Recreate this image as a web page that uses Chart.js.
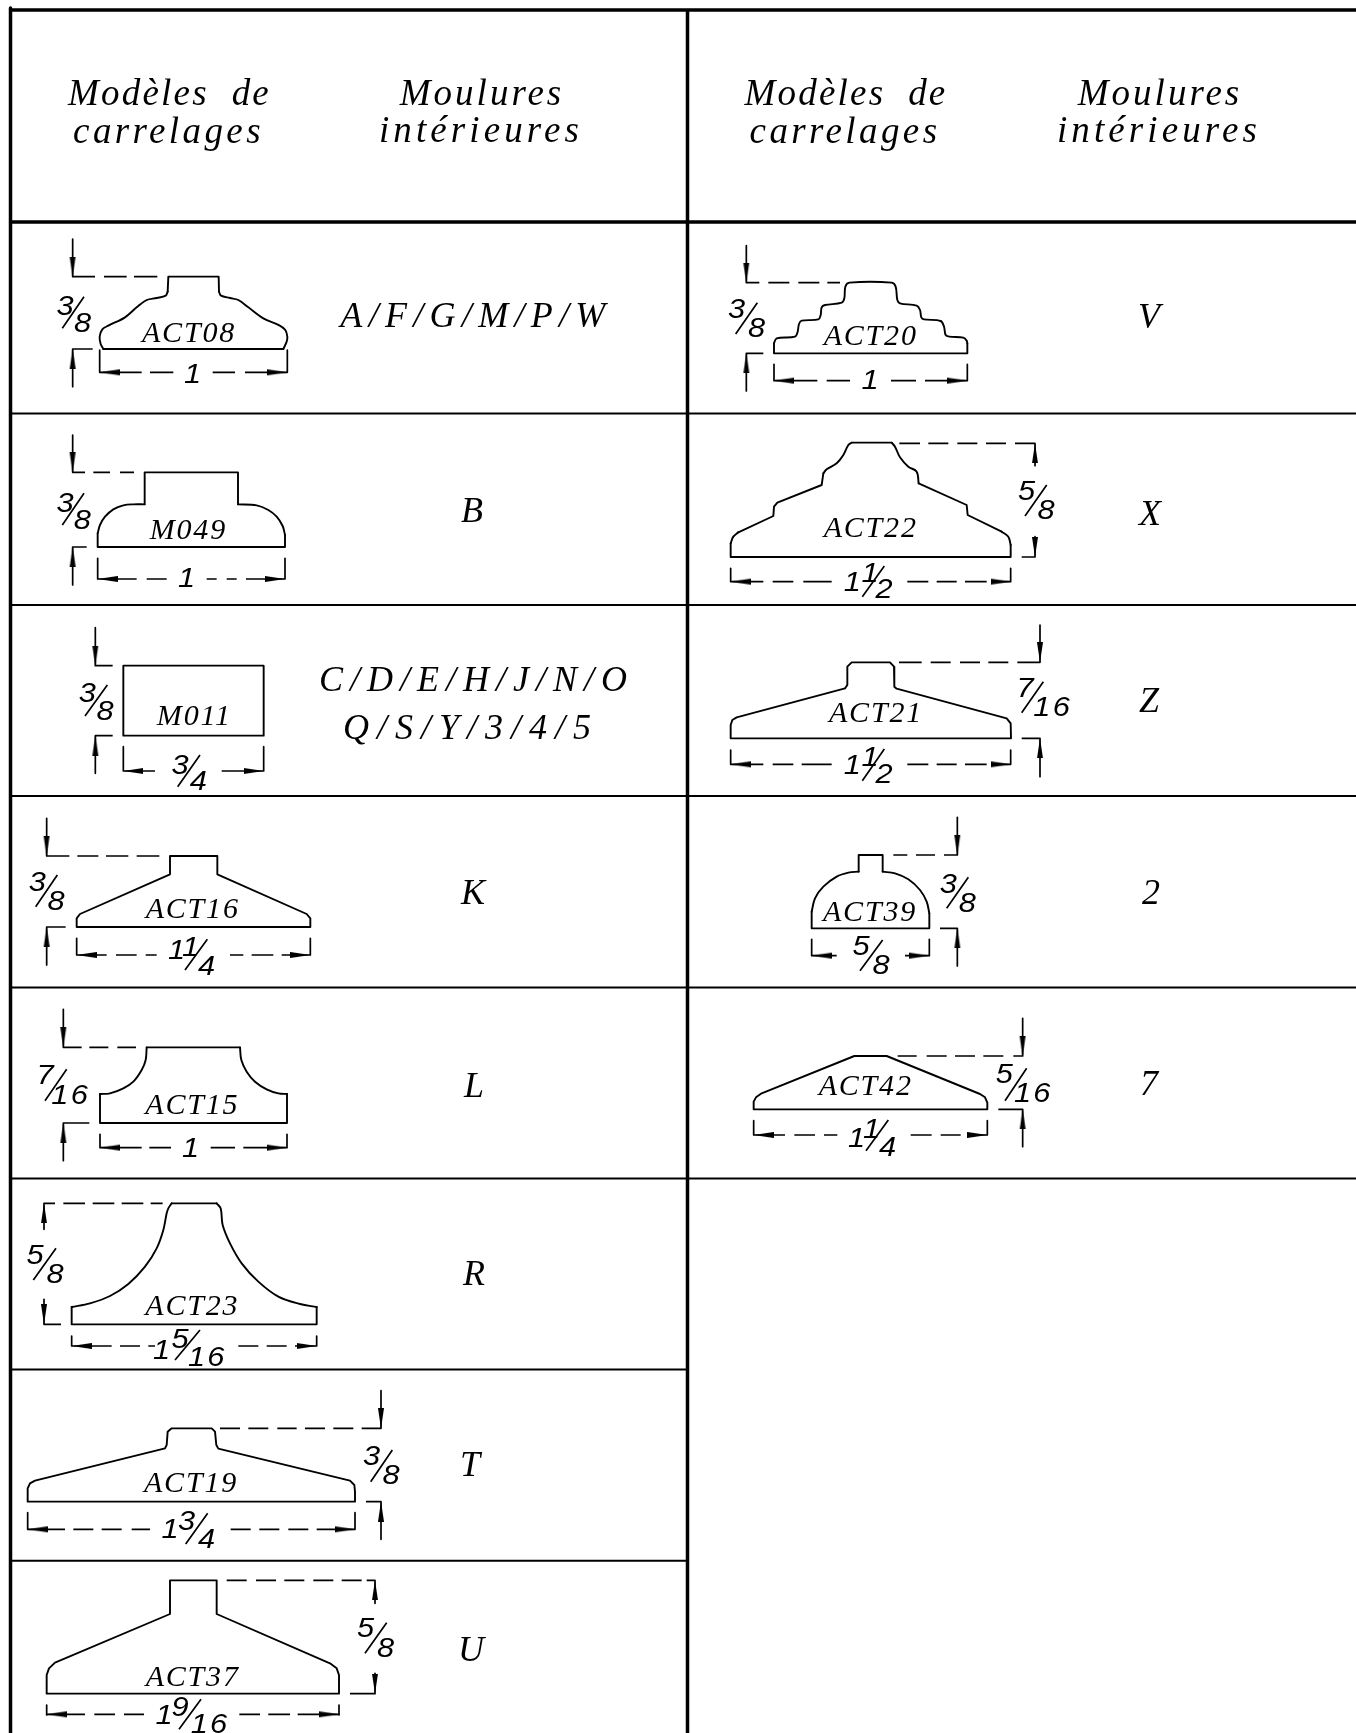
<!DOCTYPE html>
<html><head><meta charset="utf-8">
<style>html,body{margin:0;padding:0;background:#fff}canvas{display:block}</style>
<script src="https://cdn.jsdelivr.net/npm/chart.js@4"></script>
</head><body>
<canvas id="c" width="1356" height="1733"></canvas>
<script>
// Table frame (page units)
const thickH = [[10,10,1356],[222,10,1356]];
const thickV = [[10.5,8,1733],[687.5,10,1733]];
const thinH = [[413.5,10,1356],[605,10,1356],[796,10,1356],[987.5,10,1356],[1178.5,10,1356],[1369.5,10,687],[1560.7,10,687]];

// Header and moulding letters (page units)
const headers = [["Modèles  de",169.5,105],["carrelages",168.5,143],["Moulures",482,105],["intérieures",481,142],
  ["Modèles  de",846,105],["carrelages",845,143],["Moulures",1160,105],["intérieures",1159,142]];
const headerSpacing = [2.2,3.4,3,4.1,2.2,3.4,3,4.1];
const mouldings = [["A/F/G/M/P/W",476,327],["B",472,522],["C/D/E/H/J/N/O",476.5,691],["Q/S/Y/3/4/5",471,739],
  ["K",473,904],["L",474,1097],["R",474,1285],["T",470,1476],["U",471,1661],
  ["V",1149,328],["X",1150,525],["Z",1149,712],["2",1151,904],["7",1149,1095]];
const mouldingSpacing = [6.3,0,7,8,0,0,0,0,0,0,0,0,0,0];

// Each profile below is read in reference crop units (3 per page pixel) from its crop origin.
// _outline pieces are straight polylines, _curves pieces are smooth ones.
const cropA=[0,220], cropB=[0,600], cropC=[0,980], cropD=[0,1360], cropE=[700,220], cropF=[700,600], cropG=[720,800];

const ACT08_outline=[[503,215,505,170,656,170,657,215],[310,387,850,387]];
const ACT08_curves=[[503,215,497,227,470,234,440,240,410,262,375,292,325,317,307,328,299,350,302,372,310,387],[850,387,860,365,862,350,856,330,838,316,790,295,745,262,715,240,690,234,663,227,657,215]];
const ACT08_h=[[170,218,285,312,380,402,472],[387,218,278],[457,299,425,450,520,638,705,735,862]];
const ACT08_v=[[218,57,170],[218,387,500],[299,390,457],[862,390,457]];
const ACT08_slash=[[187,325,252,230]];
const ACT08_arrows=[[218,170,'d'],[218,387,'u'],[299,457,'r'],[862,457,'l']];
const ACT08_code=["ACT08",567,365];
const ACT08_dim=[["3",195,285],["8",248,337],["1",578,488]];

const M049_outline=[[293,940,293,981,855,981,855,945],[434,853,434,757,714,757,714,853]];
const M049_curves=[[293,940,300,915,315,890,340,868,370,856,400,853,434,853],[714,853,770,856,805,870,830,890,848,918,855,945]];
const M049_h=[[757,218,255,280,330,360,402],[981,218,260],[1077,293,410,440,500,620,650,680,710,738,855]];
const M049_v=[[218,645,757],[218,981,1095],[293,1015,1077],[855,1015,1077]];
const M049_slash=[[187,915,252,820]];
const M049_arrows=[[218,757,'d'],[218,981,'u'],[293,1077,'r'],[855,1077,'l']];
const M049_code=["M049",565,957];
const M049_dim=[["3",195,875],["8",247,927],["1",560,1100]];

const M011_outline=[[370,197,791,197,791,407,370,407,370,197]];
const M011_curves=[];
const M011_h=[[197,286,338],[407,286,338],[513,370,465,665,791]];
const M011_v=[[286,83,197],[286,407,520],[370,440,513],[791,440,513]];
const M011_slash=[[255,348,322,255],[533,560,600,465]];
const M011_arrows=[[286,197,'d'],[286,407,'u'],[370,513,'r'],[791,513,'l']];
const M011_code=["M011",583,375];
const M011_dim=[["3",262,305],["8",315,360],["3",540,522],["4",595,570]];

const ACT16_outline=[[510,768,652,768,652,823,920,942,931,955,931,981,230,981,230,955,240,942,510,823,510,768]];
const ACT16_curves=[];
const ACT16_h=[[768,140,208,232,295,318,385,410,478],[981,140,197],[1065,230,320,348,410,437,470,690,730,755,820,845,931]];
const ACT16_v=[[140,655,768],[140,981,1095],[230,1015,1065],[931,1015,1065]];
const ACT16_slash=[[107,920,172,825],[555,1110,622,1018]];
const ACT16_arrows=[[140,768,'d'],[140,981,'u'],[230,1065,'r'],[931,1065,'l']];
const ACT16_code=["ACT16",578,955];
const ACT16_dim=[["3",112,872],["8",168,930],["1",530,1078],["1",572,1068],["4",620,1125]];

const ACT15_outline=[[300,342,300,429,861,429,861,342],[440,202,720,202]];
const ACT15_curves=[[440,202,437,240,425,270,400,305,370,325,330,340,300,342],[720,202,724,240,740,275,765,305,800,328,835,340,861,342]];
const ACT15_h=[[202,190,245,268,325,352,408],[429,190,268],[503,300,425,448,513,632,705,730,861]];
const ACT15_v=[[190,88,202],[190,429,542],[300,463,503],[861,463,503]];
const ACT15_slash=[[135,362,200,268]];
const ACT15_arrows=[[190,202,'d'],[190,429,'u'],[300,503,'r'],[861,503,'l']];
const ACT15_code=["ACT15",577,403];
const ACT15_dim=[["7",135,313],["16",212,372],["1",572,530]];

const ACT23_outline=[[215,981,215,1033,950,1033,950,981],[515,670,650,670]];
const ACT23_curves=[[515,670,505,685,500,700,490,750,470,805,435,860,385,912,330,948,270,970,215,981],[650,670,662,685,668,735,690,790,725,850,775,905,835,950,900,972,950,981]];
const ACT23_h=[[670,132,165,190,255,278,343,365,430,452,488],[1033,132,183],[1098,215,335,360,420,445,465,715,775,800,860,885,950]];
const ACT23_v=[[132,670,748],[132,958,1033],[215,1068,1098],[950,1068,1098]];
const ACT23_slash=[[100,900,168,805],[525,1140,600,1050]];
const ACT23_arrows=[[132,670,'u'],[132,1033,'d'],[215,1098,'r'],[950,1098,'l']];
const ACT23_code=["ACT23",577,1005];
const ACT23_dim=[["5",105,852],["8",165,910],["1",485,1137],["5",540,1105],["16",622,1157]];

const ACT19_outline=[[83,425,83,385,90,370,105,362,495,265,500,255,503,215,515,205,635,205,645,215,649,255,655,266,1050,362,1063,375,1065,395,1065,425,83,425]];
const ACT19_curves=[];
const ACT19_h=[[205,660,720,745,805,832,890,915,975,1000,1060,1085,1143],[425,1098,1143],[508,83,195,220,280,305,365,395,450,692,752,778,838,865,925,950,1065]];
const ACT19_v=[[1143,92,205],[1143,425,538],[83,458,508],[1065,458,508]];
const ACT19_slash=[[1112,365,1177,270],[557,552,623,460]];
const ACT19_arrows=[[1143,205,'d'],[1143,425,'u'],[83,508,'r'],[1065,508,'l']];
const ACT19_code=["ACT19",573,397];
const ACT19_dim=[["3",1115,315],["8",1173,373],["1",510,535],["3",560,510],["4",620,563]];

const ACT37_outline=[[140,1001,140,945,147,925,165,908,510,762,510,661,650,661,650,762,990,910,1010,925,1017,945,1017,1001,140,1001]];
const ACT37_curves=[];
const ACT37_h=[[661,680,740,768,828,853,913,940,1000,1025,1085,1100,1125],[1001,1050,1125],[1063,140,255,283,345,372,432,718,780,805,870,893,1017]];
const ACT37_v=[[1125,661,730],[1125,940,1001],[140,1035,1065],[1017,1035,1065]];
const ACT37_slash=[[1095,880,1160,788],[537,1108,603,1018]];
const ACT37_arrows=[[1125,661,'u'],[1125,1001,'d'],[140,1063,'r'],[1017,1063,'l']];
const ACT37_code=["ACT37",578,977];
const ACT37_dim=[["5",1097,832],["8",1157,890],["1",492,1092],["9",540,1068],["16",630,1118]];

const ACT20_outline=[[222,370,222,400,802,400,802,370]];
const ACT20_curves=[[222,370,230,355,285,350,293,335,297,312,305,302,355,298,362,285,365,262,375,255,425,248,433,235,436,200,448,188,575,188,587,200,592,240,600,250,650,257,660,270,664,292,672,298,722,303,732,320,737,345,748,350,790,353,800,362,802,370]];
const ACT20_h=[[188,139,178,205,268,295,358,382,420],[400,139,190],[482,222,352,380,450,573,648,675,802]];
const ACT20_v=[[139,77,188],[139,400,513],[222,433,482],[802,433,482]];
const ACT20_slash=[[107,342,172,248]];
const ACT20_arrows=[[139,188,'d'],[139,400,'u'],[222,482,'r'],[802,482,'l']];
const ACT20_code=["ACT20",512,375];
const ACT20_dim=[["3",110,295],["8",170,352],["1",510,508]];

const ACT22_outline=[[92,970,92,1011,932,1011,932,975],[115,937,220,888,222,860,232,848,365,795,370,760],[455,668,575,668],[656,790,800,855,803,885,905,935]];
const ACT22_curves=[[92,970,100,950,115,937],[370,760,380,748,410,730,430,705,445,675,455,668],[575,668,585,680,600,712,625,740,650,755,656,790],[905,935,925,950,932,975]];
const ACT22_h=[[670,598,660,685,745,772,832,858,918,945,1005],[1011,965,1005],[1085,92,190,218,280,310,395,622,685,710,770,795,860,880,932]];
const ACT22_v=[[1005,670,737],[1005,950,1011],[92,1045,1085],[932,1045,1085]];
const ACT22_slash=[[975,888,1040,795],[487,1130,553,1038]];
const ACT22_arrows=[[1005,670,'u'],[1005,1011,'d'],[92,1085,'r'],[932,1085,'l']];
const ACT22_code=["ACT22",512,950];
const ACT22_dim=[["5",980,840],["8",1038,898],["1",457,1113],["1",510,1087],["2",552,1135]];

const ACT21_outline=[[92,415,92,375,97,360,110,352,435,265,442,255,442,200,455,187,570,187,582,200,583,260,590,266,920,355,932,370,933,415,92,415]];
const ACT21_curves=[];
const ACT21_h=[[187,597,665,692,752,780,840,865,925,952,1020],[415,965,1020],[493,92,190,218,280,305,395,622,685,710,770,795,860,880,932]];
const ACT21_v=[[1020,75,187],[1020,415,530],[92,450,493],[932,450,493]];
const ACT21_slash=[[965,338,1030,245],[487,542,553,447]];
const ACT21_arrows=[[1020,187,'d'],[1020,415,'u'],[92,493,'r'],[932,493,'l']];
const ACT21_code=["ACT21",528,367];
const ACT21_dim=[["7",975,290],["16",1058,347],["1",457,522],["1",510,497],["2",552,550]];

const ACT39_outline=[[335,935,335,985,688,985,688,940],[476,815,476,765,548,765,548,815]];
const ACT39_curves=[[335,935,345,895,370,860,410,830,445,818,476,815],[548,815,585,820,625,838,660,870,680,905,688,940]];
const ACT39_h=[[765,580,622,648,705,732,772],[985,720,772],[1067,335,410,615,688]];
const ACT39_v=[[772,652,765],[772,985,1098],[335,1018,1067],[688,1018,1067]];
const ACT39_slash=[[740,925,805,832],[480,1112,548,1020]];
const ACT39_arrows=[[772,765,'d'],[772,985,'u'],[335,1067,'r'],[688,1067,'l']];
const ACT39_code=["ACT39",510,962];
const ACT39_dim=[["3",745,878],["8",802,935],["5",483,1066],["8",543,1122]];

const ACT42_outline=[[101,928,101,905,108,892,125,880,403,768,500,768,780,882,795,892,802,908,802,928,101,928]];
const ACT42_curves=[];
const ACT42_h=[[768,533,590,620,680,705,765,790,850,880,908],[928,835,908],[1005,101,195,223,285,312,352,572,635,662,722,748,802]];
const ACT42_v=[[908,655,768],[908,928,1040],[101,962,1005],[802,962,1005]];
const ACT42_slash=[[855,902,920,805],[438,1052,505,960]];
const ACT42_arrows=[[908,768,'d'],[908,928,'u'],[101,1005,'r'],[802,1005,'l']];
const ACT42_code=["ACT42",437,885];
const ACT42_dim=[["5",853,848],["16",940,905],["1",410,1040],["1",455,1015],["4",503,1068]];

const drawings=[
 [cropA,ACT08_outline,ACT08_curves,ACT08_h,ACT08_v,ACT08_slash,ACT08_arrows,ACT08_code,ACT08_dim],
 [cropA,M049_outline,M049_curves,M049_h,M049_v,M049_slash,M049_arrows,M049_code,M049_dim],
 [cropB,M011_outline,M011_curves,M011_h,M011_v,M011_slash,M011_arrows,M011_code,M011_dim],
 [cropB,ACT16_outline,ACT16_curves,ACT16_h,ACT16_v,ACT16_slash,ACT16_arrows,ACT16_code,ACT16_dim],
 [cropC,ACT15_outline,ACT15_curves,ACT15_h,ACT15_v,ACT15_slash,ACT15_arrows,ACT15_code,ACT15_dim],
 [cropC,ACT23_outline,ACT23_curves,ACT23_h,ACT23_v,ACT23_slash,ACT23_arrows,ACT23_code,ACT23_dim],
 [cropD,ACT19_outline,ACT19_curves,ACT19_h,ACT19_v,ACT19_slash,ACT19_arrows,ACT19_code,ACT19_dim],
 [cropD,ACT37_outline,ACT37_curves,ACT37_h,ACT37_v,ACT37_slash,ACT37_arrows,ACT37_code,ACT37_dim],
 [cropE,ACT20_outline,ACT20_curves,ACT20_h,ACT20_v,ACT20_slash,ACT20_arrows,ACT20_code,ACT20_dim],
 [cropE,ACT22_outline,ACT22_curves,ACT22_h,ACT22_v,ACT22_slash,ACT22_arrows,ACT22_code,ACT22_dim],
 [cropF,ACT21_outline,ACT21_curves,ACT21_h,ACT21_v,ACT21_slash,ACT21_arrows,ACT21_code,ACT21_dim],
 [cropF,ACT39_outline,ACT39_curves,ACT39_h,ACT39_v,ACT39_slash,ACT39_arrows,ACT39_code,ACT39_dim],
 [cropG,ACT42_outline,ACT42_curves,ACT42_h,ACT42_v,ACT42_slash,ACT42_arrows,ACT42_code,ACT42_dim]
];

const GAP={x:NaN,y:NaN};
const ARROW_LEN=20, ARROW_W=6;
const arrowImg=document.createElement('canvas');
arrowImg.width=ARROW_W+2; arrowImg.height=ARROW_LEN;
(function(){const g=arrowImg.getContext('2d');g.fillStyle='#000';g.beginPath();g.moveTo(arrowImg.width/2,0);g.lineTo(arrowImg.width/2+ARROW_W/2,ARROW_LEN);g.lineTo(arrowImg.width/2-ARROW_W/2,ARROW_LEN);g.closePath();g.fill();})();
const arrowDir={d:[0,-1,180],u:[0,1,0],r:[1,0,270],l:[-1,0,90]};

function toPage(o,x,y){return {x:o[0]+x/3,y:o[1]+y/3};}
function joinPaths(paths){const out=[];paths.forEach(p=>{out.push(...p,GAP);});return out;}
function pieceToPath(o,flat){const p=[];for(let i=0;i<flat.length;i+=2)p.push(toPage(o,flat[i],flat[i+1]));return p;}
function lineSet(data,width,tension){
  return {data,showLine:true,borderColor:'#000',backgroundColor:'#000',borderWidth:width,pointRadius:0,pointHoverRadius:0,
          fill:false,tension:tension||0,spanGaps:false,borderCapStyle:'round',borderJoinStyle:'round'};
}
const datasets=[];
datasets.push(Object.assign(lineSet(joinPaths([
  ...thickH.map(r=>[{x:r[1],y:r[0]},{x:r[2],y:r[0]}]),
  ...thickV.map(r=>[{x:r[0],y:r[1]},{x:r[0],y:r[2]}])]),3.5),{borderCapStyle:'butt'}));
datasets.push(Object.assign(lineSet(joinPaths(thinH.map(r=>[{x:r[1],y:r[0]},{x:r[2],y:r[0]}])),2),{borderCapStyle:'butt'}));
const labels=[];
drawings.forEach(([o,outline,curves,hs,vs,slashes,arrows,code,dims])=>{
  datasets.push(lineSet(joinPaths(outline.map(p=>pieceToPath(o,p))),1.9));
  curves.forEach(c=>datasets.push(lineSet(pieceToPath(o,c),1.9,0.35)));
  const segs=[];
  hs.forEach(r=>{for(let i=1;i<r.length;i+=2) segs.push([toPage(o,r[i],r[0]),toPage(o,r[i+1],r[0])]);});
  vs.forEach(r=>segs.push([toPage(o,r[0],r[1]),toPage(o,r[0],r[2])]));
  slashes.forEach(r=>segs.push([toPage(o,r[0],r[1]),toPage(o,r[2],r[3])]));
  datasets.push(Object.assign(lineSet(joinPaths(segs),1.7),{borderCapStyle:'butt'}));
  datasets.push({showLine:false,pointStyle:arrowImg,pointRadius:5,pointHoverRadius:5,
    pointRotation:arrows.map(a=>arrowDir[a[2]][2]),
    data:arrows.map(a=>{const p=toPage(o,a[0],a[1]),d=arrowDir[a[2]];return {x:p.x+d[0]*ARROW_LEN/2,y:p.y+d[1]*ARROW_LEN/2};})});
  const cp=toPage(o,code[1],code[2]);
  labels.push({t:code[0],x:cp.x,y:cp.y,font:'italic 30px "Liberation Serif"',ls:'1.8px',sx:1});
  dims.forEach(d=>{const p=toPage(o,d[1],d[2]);
    labels.push({t:d[0],x:p.x,y:p.y,font:'italic 28px "Liberation Sans"',ls:d[0].length>1?'2px':'0px',sx:1.1});});
});
headers.forEach((h,i)=>labels.push({t:h[0],x:h[1],y:h[2],font:'italic 37px "Liberation Serif"',ls:headerSpacing[i]+'px',sx:1}));
mouldings.forEach((m,i)=>labels.push({t:m[0],x:m[1],y:m[2],font:'italic 36px "Liberation Serif"',ls:mouldingSpacing[i]+'px',sx:1}));

const textPlugin={id:'drawingText',afterDatasetsDraw(chart){
  const {ctx,scales:{x,y}}=chart;
  ctx.save();ctx.fillStyle='#000';ctx.textAlign='center';ctx.textBaseline='alphabetic';
  labels.forEach(l=>{
    ctx.save();ctx.font=l.font;ctx.letterSpacing=l.ls;
    ctx.translate(x.getPixelForValue(l.x),y.getPixelForValue(l.y));ctx.scale(l.sx,1);
    ctx.fillText(l.t,0,0);ctx.restore();
  });
  ctx.restore();
}};
new Chart(document.getElementById('c'),{type:'scatter',data:{datasets},plugins:[textPlugin],options:{
  responsive:false,animation:false,events:[],
  layout:{padding:0,autoPadding:false},
  plugins:{legend:{display:false},tooltip:{enabled:false},title:{display:false}},
  scales:{x:{type:'linear',min:0,max:1356,display:false},y:{type:'linear',min:0,max:1733,reverse:true,display:false}}
}});
</script>
</body></html>
